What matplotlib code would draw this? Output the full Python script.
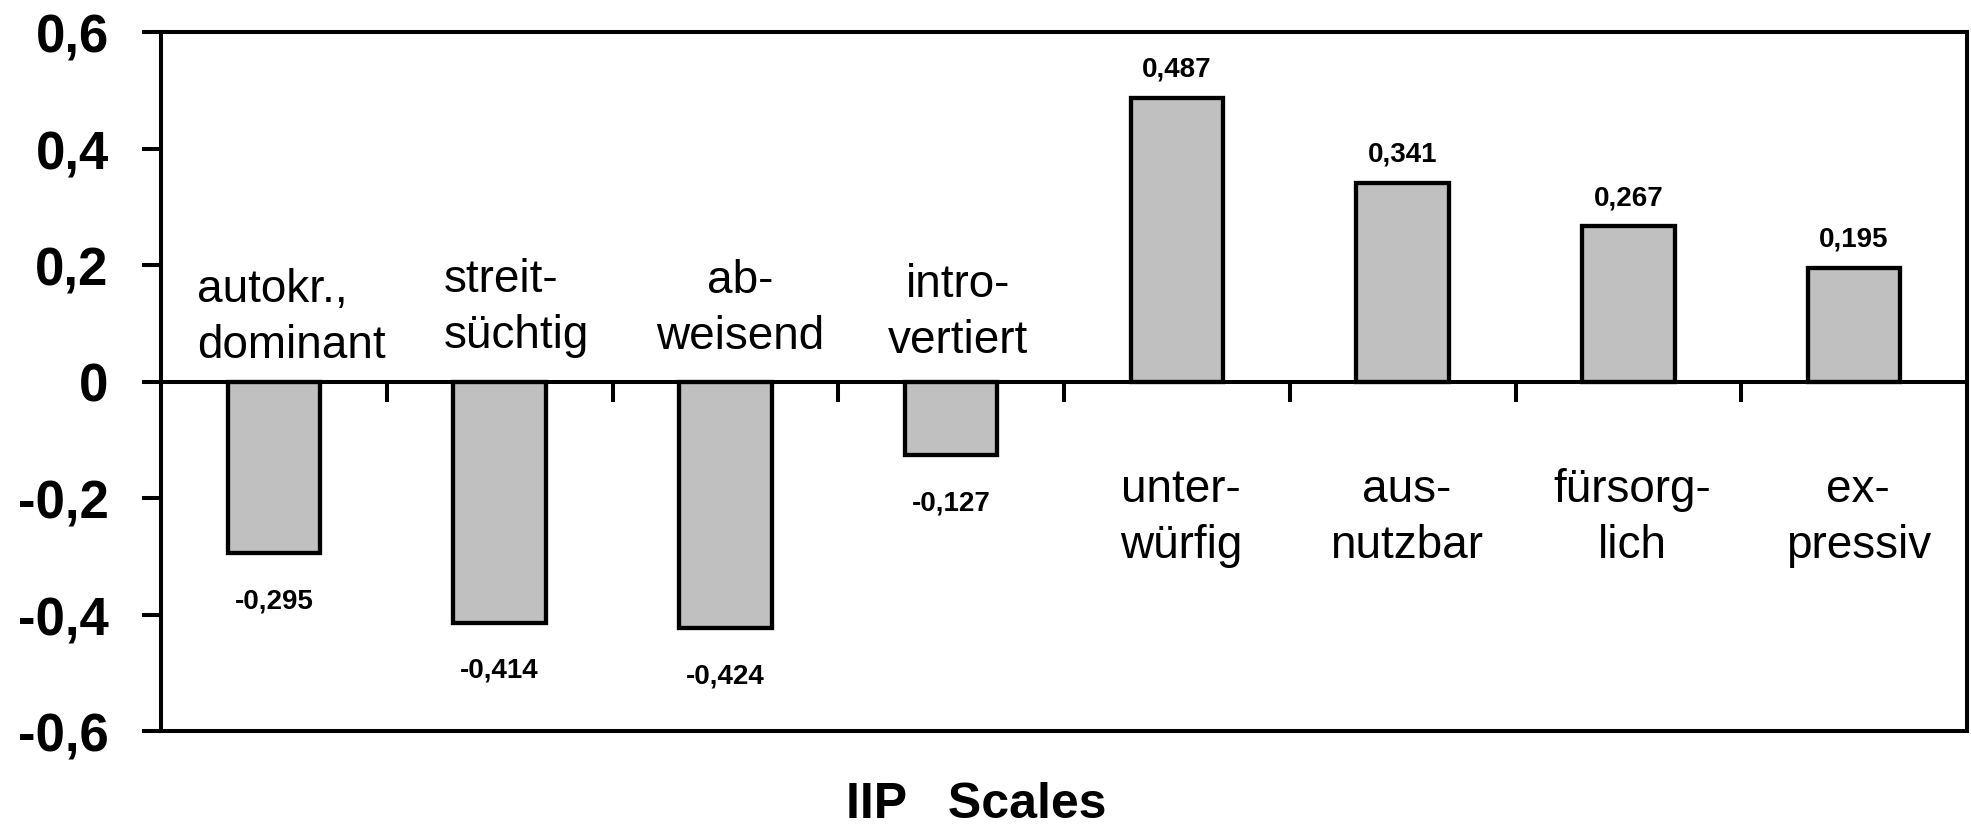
import matplotlib
matplotlib.use("Agg")
import matplotlib.pyplot as plt
import numpy as np

plt.rcParams['font.family'] = ['Liberation Sans', 'DejaVu Sans']

categories = ["autokr.,\ndominant", "streit-\nsüchtig", "ab-\nweisend", "intro-\nvertiert",
              "unter-\nwürfig", "aus-\nnutzbar", "fürsorg-\nlich", "ex-\npressiv"]
values = [-0.295, -0.414, -0.424, -0.127, 0.487, 0.341, 0.267, 0.195]
value_labels = ["-0,295", "-0,414", "-0,424", "-0,127", "0,487", "0,341", "0,267", "0,195"]
yticks = [-0.6, -0.4, -0.2, 0, 0.2, 0.4, 0.6]
ytick_labels = ["-0,6", "-0,4", "-0,2", "0", "0,2", "0,4", "0,6"]
xlabel = "IIP   Scales"

# label layout (style): horizontal alignment and small shifts in category units
label_ha = ["left", "left", "center", "center", "center", "center", "center", "center"]
label_dx = [-0.34, -0.246, 0.066, 0.031, 0.018, 0.018, 0.018, 0.018]
label_top = [0.138, 0.155, 0.153, 0.147, -0.205, -0.205, -0.205, -0.205]
line_step = 0.096

W, H, DPI = 1971, 828, 100
fig = plt.figure(figsize=(W / DPI, H / DPI), dpi=DPI)
ax = fig.add_axes([161 / W, 1 - 732 / H, (1967 - 161) / W, (732 - 33) / H])

x = np.arange(len(values))
ax.bar(x, values, width=0.41, color="#c0c0c0", edgecolor="black", linewidth=3.1, zorder=2)

ax.set_xlim(-0.5, len(values) - 0.5)
ax.set_ylim(-0.6, 0.6)
ax.set_yticks(yticks)
ax.set_yticklabels(ytick_labels, fontsize=38, fontweight="bold")
ax.tick_params(axis="y", direction="out", length=13.7, width=2.9, pad=24)

# zero line acts as x axis with ticks between categories
ax.spines["bottom"].set_position(("data", 0))
ax.spines["bottom"].set_zorder(3)
ax.set_xticks(np.arange(0.5, len(values) - 0.5, 1.0))
ax.set_xticklabels([])
ax.tick_params(axis="x", direction="out", length=14.4, width=2.9)
for s in ax.spines.values():
    s.set_linewidth(2.9)
ax.axhline(ax.get_ylim()[0], color="black", linewidth=2.9, clip_on=False, zorder=3)

# category labels on the opposite side of the bar
for i, (xi, v, lab) in enumerate(zip(x, values, categories)):
    lines = lab.split("\n")
    for k, ln in enumerate(lines):
        ax.text(xi + label_dx[i], label_top[i] - k * line_step, ln,
                ha=label_ha[i], va="baseline", fontsize=33)

# value labels
for xi, v, lab in zip(x, values, value_labels):
    off = 15.8 if v > 0 else -38.9
    ax.annotate(lab, (xi, v), xytext=(0, off), textcoords="offset points",
                ha="center", va="baseline", fontsize=20, fontweight="bold")

fig.text(976 / W, 1 - 818 / H, xlabel, ha="center", va="baseline", fontsize=36, fontweight="bold")

fig.savefig("out.png", dpi=DPI)
